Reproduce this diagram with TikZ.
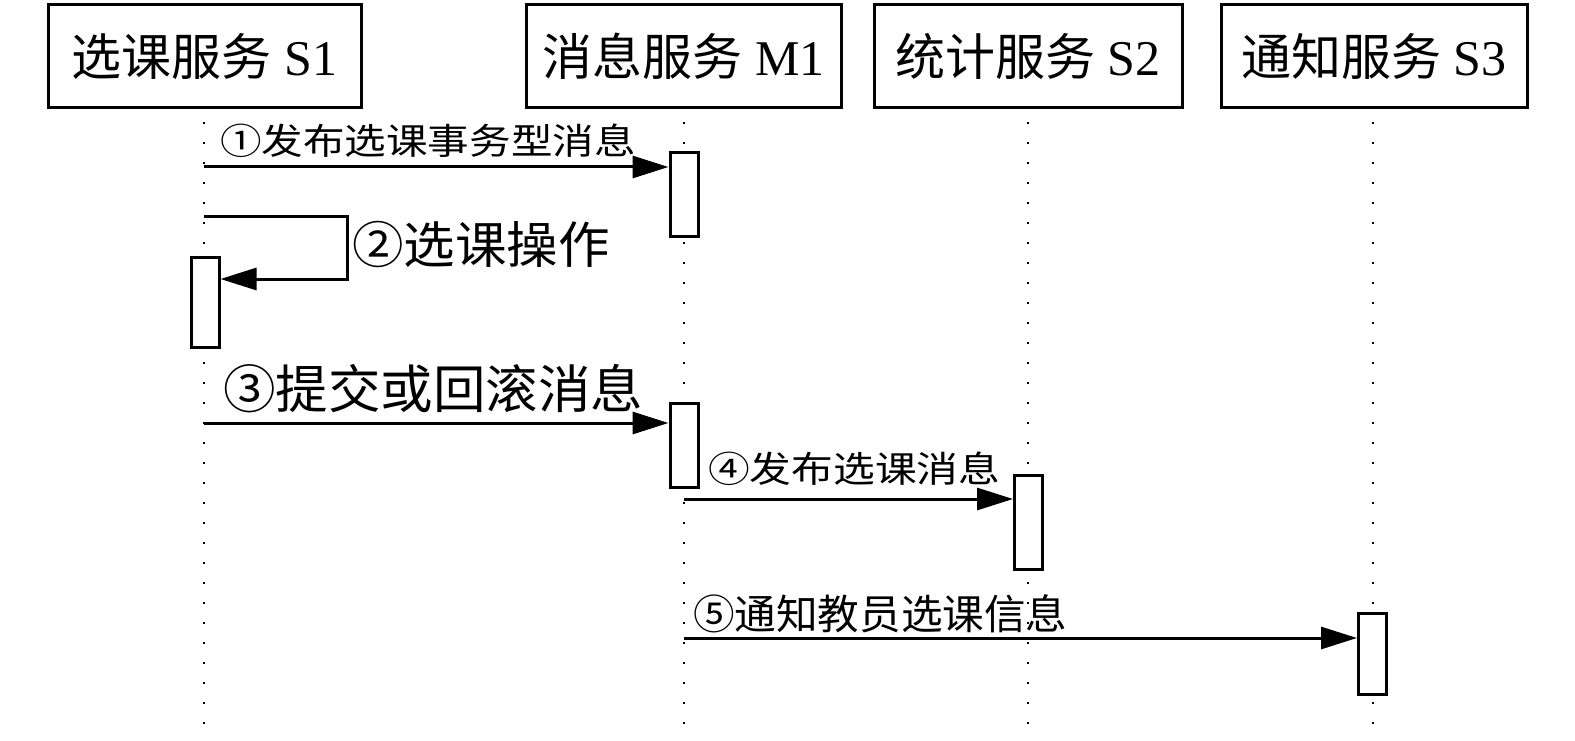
\documentclass[tikz,border=0pt]{standalone}
\usepackage{fontspec}
\usepackage{graphicx}
\setmainfont{Liberation Serif}
\newfontfamily\cjk{Noto Sans CJK SC}
\usetikzlibrary{arrows.meta}
\tikzset{
  actor/.style={draw, line width=3pt, rectangle, inner sep=0pt, minimum height=103pt, font=\fontsize{50}{50}\selectfont},
  actbox/.style={draw, line width=3pt, fill=white, rectangle, inner sep=0pt, minimum width=28pt},
  lifeline/.style={line width=2.4pt, dash pattern=on 2.4pt off 17.6pt},
  msg/.style={line width=3pt, -{Triangle[length=36pt,width=22pt]}},
  lbl/.style={anchor=west, inner sep=0pt, outer sep=0pt},
}
\begin{document}
\begin{tikzpicture}[x=1pt,y=-1pt]
\useasboundingbox (0,0) rectangle (1575,741);
% lifelines
\coordinate (l1t) at (204,122); \coordinate (l1b) at (204,730);
\coordinate (l2t) at (684,122); \coordinate (l2b) at (684,730);
\coordinate (l3t) at (1028,122); \coordinate (l3b) at (1028,730);
\coordinate (l4t) at (1373,122); \coordinate (l4b) at (1373,730);
\draw[lifeline] (l1t) -- (l1b);
\draw[lifeline] (l2t) -- (l2b);
\draw[lifeline] (l3t) -- (l3b);
\draw[lifeline] (l4t) -- (l4b);
% actors
\node[actor, minimum width=313pt] (s1) at (204.5,56.5) {{\cjk 选课服务} S1};
\node[actor, minimum width=315pt] (m1) at (683.5,56.5) {{\cjk 消息服务} M1};
\node[actor, minimum width=308pt] (s2) at (1028,56.5) {{\cjk 统计服务} S2};
\node[actor, minimum width=306pt] (s3) at (1374,56.5) {{\cjk 通知服务} S3};
% activation boxes
\node[actbox, minimum height=83pt] (am1a) at (684,194.5) {};
\node[actbox, minimum height=90pt] (as1) at (205,302) {};
\node[actbox, minimum height=84pt] (am1b) at (684,445) {};
\node[actbox, minimum height=94pt] (as2) at (1028.5,522) {};
\node[actbox, minimum height=81pt] (as3) at (1372.5,653.5) {};
% message 1
\coordinate (m1s) at (204,167);
\draw[msg] (m1s) -- (am1a.west |- m1s);
\node[lbl] (t1) at (220,141) {\scalebox{1.155}[1]{\fontsize{36}{36}\selectfont\cjk ①发布选课事务型消息}};
% message 2 (self)
\coordinate (m2s) at (204,216);
\coordinate (m2c) at (347,216);
\coordinate (m2d) at (347,279);
\draw[msg] (m2s) -- (m2c) -- (m2d) -- (as1.east |- m2d);
\node[lbl] (t2) at (352,244.5) {\scalebox{1.03}[1]{\fontsize{50}{50}\selectfont\cjk ②选课操作}};
% message 3
\coordinate (m3s) at (204,423);
\draw[msg] (m3s) -- (am1b.west |- m3s);
\node[lbl] (t3) at (223,388.5) {\scalebox{1.01}[1]{\fontsize{52}{52}\selectfont\cjk ③提交或回滚消息}};
% message 4
\coordinate (m4s) at (684,499);
\draw[msg] (m4s) -- (as2.west |- m4s);
\node[lbl] (t4) at (708,469) {\scalebox{1.16}[1]{\fontsize{36}{36}\selectfont\cjk ④发布选课消息}};
% message 5
\coordinate (m5s) at (684,638);
\draw[msg] (m5s) -- (as3.west |- m5s);
\node[lbl] (t5) at (693,613.5) {\scalebox{1.015}[1]{\fontsize{41}{41}\selectfont\cjk ⑤通知教员选课信息}};
\end{tikzpicture}
\end{document}
